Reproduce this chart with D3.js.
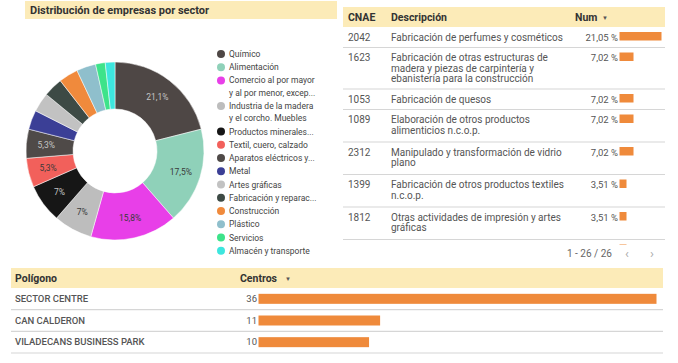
<!DOCTYPE html>
<html>
<head>
<meta charset="utf-8">
<script src="https://cdn.jsdelivr.net/npm/d3@7"></script>
<style>
  body { margin: 0; background: #fff; }
  svg { font-family: Roboto, "Noto Sans", sans-serif; display: block; }
</style>
</head>
<body>
<div id="chart"></div>
<script>
// sector donut data
const sectorLabels = [
  ["Químico"],
  ["Alimentación"],
  ["Comercio al por mayor", "y al por menor, excep..."],
  ["Industria de la madera", "y el corcho. Muebles"],
  ["Productos minerales..."],
  ["Textil, cuero, calzado"],
  ["Aparatos eléctricos y..."],
  ["Metal"],
  ["Artes gráficas"],
  ["Fabricación y reparac..."],
  ["Construcción"],
  ["Plástico"],
  ["Servicios"],
  ["Almacén y transporte"]
];
const sectorCounts = [12, 10, 9, 4, 4, 3, 3, 2, 2, 2, 2, 2, 1, 1];
const sectorColors = ["#4e4745", "#8fd1b9", "#e83fe8", "#bdbdbd", "#161616", "#f2605b", "#4f4a48",
                      "#3b3f96", "#c2c2c2", "#3d4a45", "#f08a3c", "#8fbfcc", "#3de38a", "#3de6de"];

// CNAE table data
const cnaeCodes = ["2042", "1623", "1053", "1089", "2312", "1399", "1812", "2229"];
const cnaeDesc = [
  ["Fabricación de perfumes y cosméticos"],
  ["Fabricación de otras estructuras de", "madera y piezas de carpintería y", "ebanistería para la construcción"],
  ["Fabricación de quesos"],
  ["Elaboración de otros productos", "alimenticios n.c.o.p."],
  ["Manipulado y transformación de vidrio", "plano"],
  ["Fabricación de otros productos textiles", "n.c.o.p."],
  ["Otras actividades de impresión y artes", "gráficas"],
  ["Fabricación de otros productos de", "plástico"]
];
const cnaePct = [21.05, 7.02, 7.02, 7.02, 7.02, 3.51, 3.51, 3.51];

// poligono table data
const poligonos = ["SECTOR CENTRE", "CAN CALDERON", "VILADECANS BUSINESS PARK"];
const centros = [36, 11, 10];

const W = 678, H = 363;
const orange = "#ef8a3b", band = "#fcebb8", lineCol = "#d6d6d6";
const fmtComma = v => String(v).replace(".", ",");

const svg = d3.select("#chart").append("svg")
  .attr("width", W).attr("height", H);

svg.append("rect").attr("width", W).attr("height", H).attr("fill", "#fff");

// ---- title ----
svg.append("rect").attr("x", 25).attr("y", 1).attr("width", 312).attr("height", 18).attr("fill", band);
svg.append("text").attr("x", 30).attr("y", 14)
  .attr("font-size", 11).attr("font-weight", 700).attr("fill", "#333")
  .text("Distribución de empresas por sector");

// ---- donut ----
const total = d3.sum(sectorCounts);
const pie = d3.pie().sort(null).value(d => d)(sectorCounts);
const outerR = 89, innerR = 42;
const arc = d3.arc().innerRadius(innerR).outerRadius(outerR);
const labelArc = d3.arc().innerRadius(69).outerRadius(69);

const donut = svg.append("g").attr("transform", "translate(115,151)");
donut.selectAll("path").data(pie).enter().append("path")
  .attr("d", arc)
  .attr("fill", (d, i) => sectorColors[i])
  .attr("stroke", "#fff").attr("stroke-width", 0.5);

const pct = d => {
  const p = Math.round(d.value / total * 1000) / 10;
  return fmtComma(p % 1 === 0 ? p.toFixed(0) : p.toFixed(1)) + "%";
};
donut.selectAll("text").data(pie.filter(d => d.value / total >= 0.05)).enter().append("text")
  .attr("transform", d => `translate(${labelArc.centroid(d)})`)
  .attr("text-anchor", "middle").attr("dy", "0.35em")
  .attr("font-size", 8.5)
  .attr("fill", d => d3.hsl(sectorColors[d.index]).l < 0.45 ? "#c4c4c4" : "#3a3a3a")
  .text(pct);

// legend
const legend = svg.append("g").attr("transform", "translate(221,54)");
let ly = 0;
sectorLabels.forEach((lines, i) => {
  const g = legend.append("g").attr("transform", `translate(0,${ly})`);
  g.append("circle").attr("r", 4).attr("fill", sectorColors[i]);
  lines.forEach((t, j) => {
    g.append("text").attr("x", 8).attr("y", j * 12.3).attr("dy", "0.35em")
      .attr("font-size", 8.5).attr("fill", "#444").text(t);
  });
  ly += 13.25 + (lines.length - 1) * 12.3;
});

// ---- CNAE table ----
const tX0 = 343, tX1 = 665;
svg.append("rect").attr("x", tX0).attr("y", 7).attr("width", tX1 - tX0).attr("height", 20).attr("fill", band);
const th = svg.append("g").attr("font-size", 10.5).attr("font-weight", 700).attr("fill", "#333");
th.append("text").attr("x", 348).attr("y", 20.5).text("CNAE");
th.append("text").attr("x", 391).attr("y", 20.5).text("Descripción");
th.append("text").attr("x", 575).attr("y", 20.5).text("Num");
th.append("text").attr("x", 602).attr("y", 19.5).attr("font-size", 6).attr("fill", "#555").text("▼");

const xPct = d3.scaleLinear().domain([0, d3.max(cnaePct)]).range([0, 42]);

svg.append("clipPath").attr("id", "bodyclip")
  .append("rect").attr("x", tX0).attr("y", 27).attr("width", tX1 - tX0).attr("height", 218);
const body = svg.append("g").attr("clip-path", "url(#bodyclip)");

let ry = 27;
cnaeCodes.forEach((code, i) => {
  const nLines = cnaeDesc[i].length;
  const rh = 10 + 10.5 * nLines + (nLines === 2 ? 1.5 : 0);
  const row = body.append("g").attr("transform", `translate(0,${ry})`);
  row.append("text").attr("x", 348).attr("y", 13.5).attr("font-size", 10).attr("fill", "#555").text(code);
  cnaeDesc[i].forEach((t, j) => {
    row.append("text").attr("x", 391).attr("y", 13.5 + j * 10.5)
      .attr("font-size", 10).attr("fill", "#555").text(t);
  });
  row.append("text").attr("x", 618).attr("y", 13.5).attr("text-anchor", "end")
    .attr("font-size", 9.5).attr("fill", "#555").text(fmtComma(cnaePct[i].toFixed(2)) + " %");
  row.append("rect").attr("x", 619.5).attr("y", 5).attr("width", xPct(cnaePct[i])).attr("height", 8.5).attr("fill", orange);
  ry += rh;
  body.append("line").attr("x1", tX0).attr("x2", tX1).attr("y1", ry).attr("y2", ry)
    .attr("stroke", lineCol).attr("stroke-width", 1.2);
});

const pag = svg.append("g").attr("font-size", 10).attr("fill", "#666");
pag.append("text").attr("x", 567).attr("y", 257).text("1 - 26 / 26");
pag.append("text").attr("x", 625).attr("y", 257.5).attr("font-size", 13).attr("fill", "#aaa").text("‹");
pag.append("text").attr("x", 650).attr("y", 257.5).attr("font-size", 13).attr("fill", "#aaa").text("›");

// ---- poligono table ----
const bX0 = 11, bX1 = 663;
svg.append("rect").attr("x", bX0).attr("y", 268).attr("width", bX1 - bX0).attr("height", 20).attr("fill", band);
const bh = svg.append("g").attr("font-size", 10.5).attr("font-weight", 700).attr("fill", "#333");
bh.append("text").attr("x", 15).attr("y", 281.5).text("Polígono");
bh.append("text").attr("x", 240).attr("y", 281.5).text("Centros");
bh.append("text").attr("x", 285).attr("y", 280.5).attr("font-size", 6).attr("fill", "#555").text("▼");

const xCentros = d3.scaleLinear().domain([0, d3.max(centros)]).range([0, 398]);
const yRow = d3.scaleBand().domain(poligonos).range([288, 353]);

const brows = svg.append("g").selectAll("g").data(poligonos).enter().append("g")
  .attr("transform", d => `translate(0,${yRow(d)})`);
brows.append("text").attr("x", 15).attr("y", yRow.bandwidth() / 2).attr("dy", "0.35em")
  .attr("font-size", 9.5).attr("font-weight", 500).attr("fill", "#555").text(d => d);
brows.append("text").attr("x", 257).attr("y", yRow.bandwidth() / 2).attr("dy", "0.35em")
  .attr("text-anchor", "end").attr("font-size", 9.5).attr("fill", "#555").text((d, i) => centros[i]);
brows.append("rect").attr("x", 258.5).attr("y", yRow.bandwidth() / 2 - 5)
  .attr("width", (d, i) => xCentros(centros[i])).attr("height", 10).attr("fill", orange);
brows.append("line").attr("x1", bX0).attr("x2", bX1)
  .attr("y1", yRow.bandwidth()).attr("y2", yRow.bandwidth())
  .attr("stroke", lineCol).attr("stroke-width", 1.2);
</script>
</body>
</html>
